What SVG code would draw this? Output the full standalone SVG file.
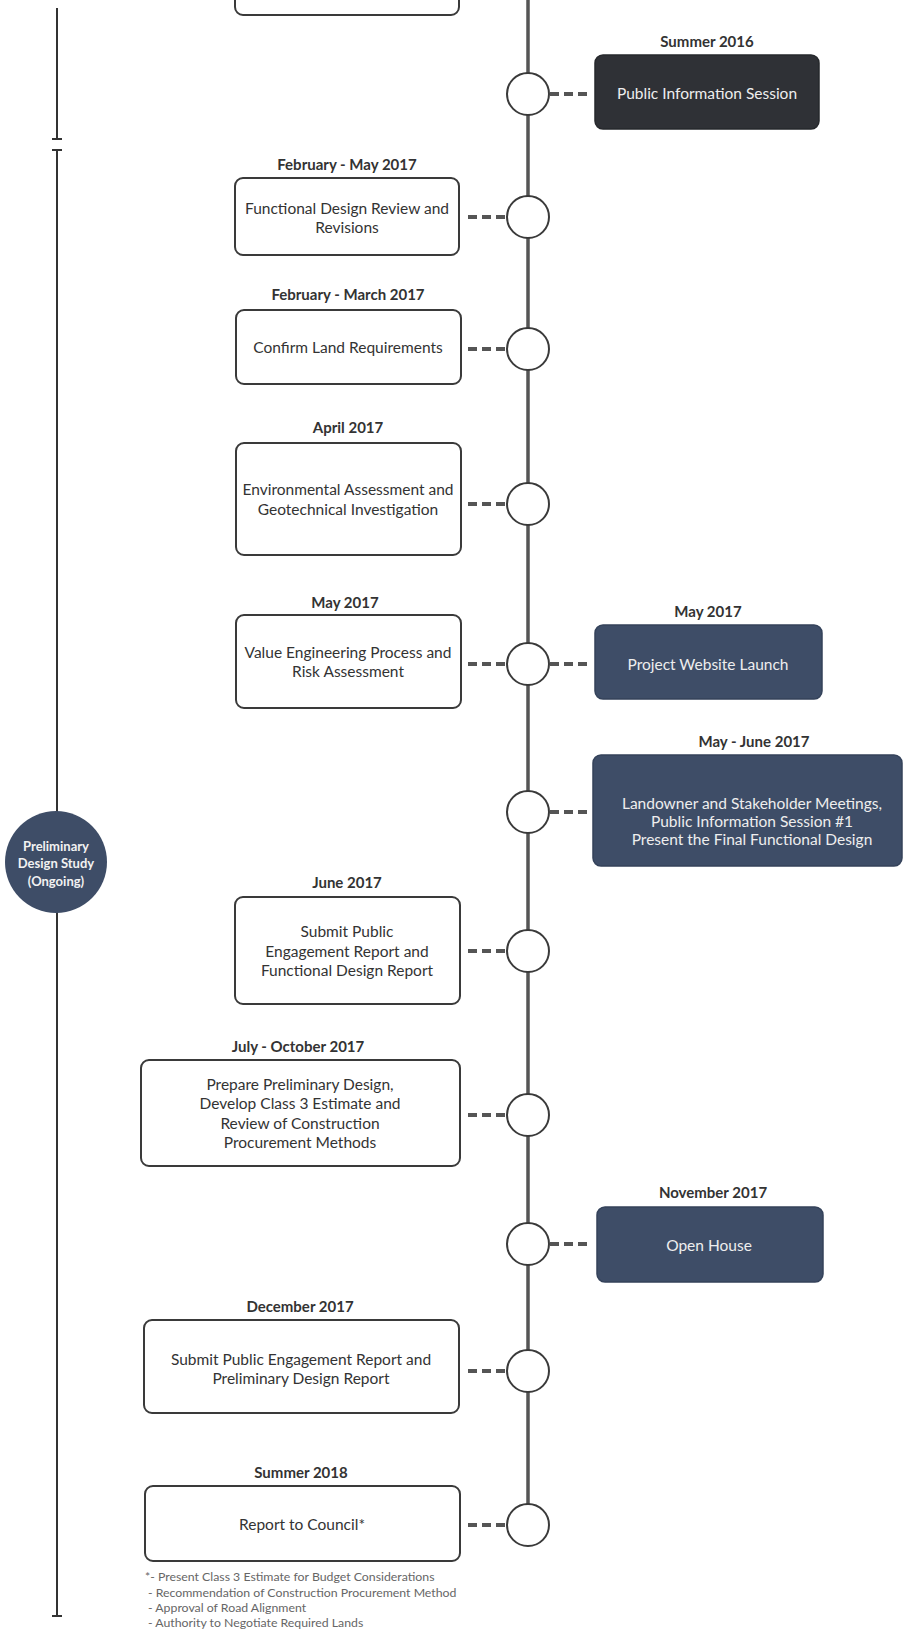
<svg xmlns="http://www.w3.org/2000/svg" width="903" height="1631" viewBox="0 0 903 1631">
<style>
.bg{fill:#ffffff}
.box{fill:#ffffff;stroke:#3a3a3a;stroke-width:2}
.dark{fill:#2f3136;stroke:#26282c;stroke-width:1.5}
.navy{fill:#3e4d67;stroke:#34425a;stroke-width:1.5}
.txt{font-family:Lato,"Liberation Sans",sans-serif;font-size:15.5px;fill:#333333;text-anchor:middle}
.wtxt{font-family:Lato,"Liberation Sans",sans-serif;font-size:15.5px;fill:#eeeeee;text-anchor:middle}
.lbl{font-family:Lato,"Liberation Sans",sans-serif;font-size:15px;font-weight:bold;fill:#333333;text-anchor:middle}
.ctxt{font-family:Lato,"Liberation Sans",sans-serif;font-size:13px;font-weight:bold;fill:#f2f2f2;text-anchor:middle}
.note{font-family:Lato,"Liberation Sans",sans-serif;font-size:12.3px;fill:#666666}
.tl{stroke:#555555;stroke-width:3.5;fill:none}
.side{stroke:#333333;stroke-width:2;fill:none}
.dash{stroke:#555555;stroke-width:4;stroke-dasharray:9 5;fill:none}
.dot{fill:#ffffff;stroke:#3a3a3a;stroke-width:2}
</style>
<rect class="bg" x="0" y="0" width="903" height="1631"/>

<g id="connectors">
  <line class="tl" x1="528" y1="0" x2="528" y2="1504"/>
  <line class="side" x1="57" y1="8" x2="57" y2="139"/>
  <line class="side" x1="52" y1="139" x2="62" y2="139"/>
  <line class="side" x1="52" y1="150" x2="62" y2="150"/>
  <line class="side" x1="57" y1="150" x2="57" y2="1616"/>
  <line class="side" x1="52" y1="1616" x2="62" y2="1616"/>
  <line class="dash" x1="550" y1="94" x2="590" y2="94"/>
  <line class="dash" x1="468" y1="217" x2="507" y2="217"/>
  <line class="dash" x1="468" y1="349" x2="507" y2="349"/>
  <line class="dash" x1="468" y1="504" x2="507" y2="504"/>
  <line class="dash" x1="468" y1="664" x2="507" y2="664"/>
  <line class="dash" x1="550" y1="664" x2="590" y2="664"/>
  <line class="dash" x1="550" y1="812" x2="590" y2="812"/>
  <line class="dash" x1="468" y1="951" x2="507" y2="951"/>
  <line class="dash" x1="468" y1="1115" x2="507" y2="1115"/>
  <line class="dash" x1="550" y1="1244" x2="590" y2="1244"/>
  <line class="dash" x1="468" y1="1371" x2="507" y2="1371"/>
  <line class="dash" x1="468" y1="1525" x2="507" y2="1525"/>
</g>

<g id="milestones">
  <circle class="dot" cx="528" cy="94" r="21"/>
  <circle class="dot" cx="528" cy="217" r="21"/>
  <circle class="dot" cx="528" cy="349" r="21"/>
  <circle class="dot" cx="528" cy="504" r="21"/>
  <circle class="dot" cx="528" cy="664" r="21"/>
  <circle class="dot" cx="528" cy="812" r="21"/>
  <circle class="dot" cx="528" cy="951" r="21"/>
  <circle class="dot" cx="528" cy="1115" r="21"/>
  <circle class="dot" cx="528" cy="1244" r="21"/>
  <circle class="dot" cx="528" cy="1371" r="21"/>
  <circle class="dot" cx="528" cy="1525" r="21"/>
</g>

<g id="phase-preliminary">
  <circle cx="56" cy="862" r="51" fill="#3e4d67"/>
  <text class="ctxt" x="56" y="851">Preliminary</text>
  <text class="ctxt" x="56" y="868">Design Study</text>
  <text class="ctxt" x="56" y="886">(Ongoing)</text>
</g>

<g id="top-box">
  <rect class="box" x="235" y="-60" width="224" height="75" rx="8"/>
</g>

<g id="public-info-2016">
  <text class="lbl" x="707" y="47">Summer 2016</text>
  <rect class="dark" x="595" y="55" width="224" height="74" rx="8"/>
  <text class="wtxt" x="707" y="99">Public Information Session</text>
</g>

<g id="functional-review">
  <text class="lbl" x="347" y="170">February - May 2017</text>
  <rect class="box" x="235" y="178" width="224" height="77" rx="8"/>
  <text class="txt" x="347" y="214">Functional Design Review and</text>
  <text class="txt" x="347" y="233">Revisions</text>
</g>

<g id="confirm-land">
  <text class="lbl" x="348" y="300">February - March 2017</text>
  <rect class="box" x="236" y="310" width="225" height="74" rx="8"/>
  <text class="txt" x="348" y="353">Confirm Land Requirements</text>
</g>

<g id="environmental">
  <text class="lbl" x="348" y="433">April 2017</text>
  <rect class="box" x="236" y="443" width="225" height="112" rx="8"/>
  <text class="txt" x="348" y="495">Environmental Assessment and</text>
  <text class="txt" x="348" y="515">Geotechnical Investigation</text>
</g>

<g id="value-engineering">
  <text class="lbl" x="345" y="608">May 2017</text>
  <rect class="box" x="236" y="615" width="225" height="93" rx="8"/>
  <text class="txt" x="348" y="658">Value Engineering Process and</text>
  <text class="txt" x="348" y="677">Risk Assessment</text>
</g>

<g id="website-launch">
  <text class="lbl" x="708" y="617">May 2017</text>
  <rect class="navy" x="595" y="625" width="227" height="74" rx="8"/>
  <text class="wtxt" x="708" y="670">Project Website Launch</text>
</g>

<g id="landowner-meetings">
  <text class="lbl" x="754" y="747">May - June 2017</text>
  <rect class="navy" x="593" y="755" width="309" height="111" rx="8"/>
  <text class="wtxt" x="752" y="809">Landowner and Stakeholder Meetings,</text>
  <text class="wtxt" x="752" y="827">Public Information Session #1</text>
  <text class="wtxt" x="752" y="845">Present the Final Functional Design</text>
</g>

<g id="submit-functional">
  <text class="lbl" x="347" y="888">June 2017</text>
  <rect class="box" x="235" y="897" width="225" height="107" rx="8"/>
  <text class="txt" x="347" y="937">Submit Public</text>
  <text class="txt" x="347" y="957">Engagement Report and</text>
  <text class="txt" x="347" y="976">Functional Design Report</text>
</g>

<g id="prepare-preliminary">
  <text class="lbl" x="298" y="1052">July - October 2017</text>
  <rect class="box" x="141" y="1060" width="319" height="106" rx="8"/>
  <text class="txt" x="300" y="1090">Prepare Preliminary Design,</text>
  <text class="txt" x="300" y="1109">Develop Class 3 Estimate and</text>
  <text class="txt" x="300" y="1129">Review of Construction</text>
  <text class="txt" x="300" y="1148">Procurement Methods</text>
</g>

<g id="open-house">
  <text class="lbl" x="713" y="1198">November 2017</text>
  <rect class="navy" x="597" y="1207" width="226" height="75" rx="8"/>
  <text class="wtxt" x="709" y="1251">Open House</text>
</g>

<g id="submit-preliminary">
  <text class="lbl" x="300" y="1312">December 2017</text>
  <rect class="box" x="144" y="1320" width="315" height="93" rx="8"/>
  <text class="txt" x="301" y="1365">Submit Public Engagement Report and</text>
  <text class="txt" x="301" y="1384">Preliminary Design Report</text>
</g>

<g id="report-council">
  <text class="lbl" x="301" y="1478">Summer 2018</text>
  <rect class="box" x="145" y="1486" width="315" height="75" rx="8"/>
  <text class="txt" x="302" y="1530">Report to Council*</text>
</g>

<g id="footnote">
  <text class="note" x="145" y="1581">*- Present Class 3 Estimate for Budget Considerations</text>
  <text class="note" x="148" y="1597">- Recommendation of Construction Procurement Method</text>
  <text class="note" x="148" y="1612">- Approval of Road Alignment</text>
  <text class="note" x="148" y="1627">- Authority to Negotiate Required Lands</text>
</g>
</svg>
